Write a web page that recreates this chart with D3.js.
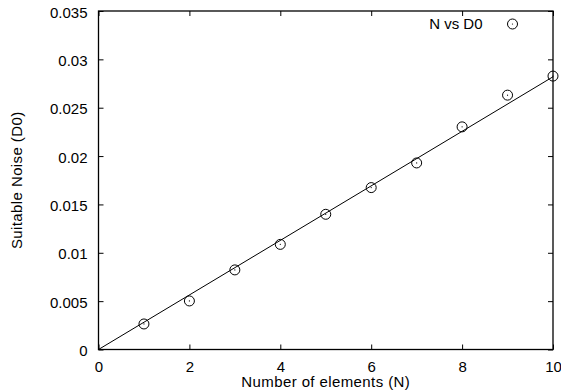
<!DOCTYPE html>
<html>
<head>
<meta charset="utf-8">
<script src="https://cdn.jsdelivr.net/npm/d3@7"></script>
<style>
  body { margin: 0; background: #fff; }
  text { font-family: "Liberation Sans", Arial, sans-serif; font-size: 15px; fill: #000; }
</style>
</head>
<body>
<div id="chart"></div>
<script>
// measured points
var nValues = [1, 2, 3, 4, 5, 6, 7, 8, 9, 10];
var d0Values = [0.00264, 0.00502, 0.00823, 0.01087, 0.01398, 0.01674, 0.01929, 0.02302, 0.0263, 0.02827];
// fitted line through origin
var fitSlope = 0.00282;
var xTicks = [0, 2, 4, 6, 8, 10];
var yTicks = [0, 0.005, 0.01, 0.015, 0.02, 0.025, 0.03, 0.035];
var legendLabel = "N vs D0";

var margin = { top: 11, right: 8, bottom: 42.5, left: 98.5 },
    width = 561 - margin.left - margin.right,
    height = 392 - margin.top - margin.bottom;

var x = d3.scaleLinear().domain([0, 10]).range([0, width]);
var y = d3.scaleLinear().domain([0, 0.035]).range([height, 0]);

var svg = d3.select("#chart").append("svg")
    .attr("width", 561)
    .attr("height", 392)
    .append("g")
    .attr("transform", "translate(" + margin.left + "," + margin.top + ")");

var tickLen = 5;

// axes with inward ticks, mirrored on top and right
svg.append("g")
    .attr("transform", "translate(0," + height + ")")
    .call(d3.axisBottom(x).tickValues(xTicks).tickSizeInner(-tickLen).tickSizeOuter(0).tickPadding(12))
    .call(function(g) { g.select(".domain").remove(); });
svg.append("g")
    .call(d3.axisTop(x).tickValues(xTicks).tickSizeInner(-tickLen).tickSizeOuter(0).tickFormat(""))
    .call(function(g) { g.select(".domain").remove(); });
svg.append("g")
    .call(d3.axisLeft(y).tickValues(yTicks).tickSizeInner(-tickLen).tickSizeOuter(0).tickPadding(11)
        .tickFormat(function(d) { return d === 0 ? "0" : String(+d.toFixed(3)); }))
    .call(function(g) { g.select(".domain").remove(); })
    .call(function(g) { g.selectAll(".tick text").attr("dy", "0.4em"); });
svg.append("g")
    .attr("transform", "translate(" + width + ",0)")
    .call(d3.axisRight(y).tickValues(yTicks).tickSizeInner(-tickLen).tickSizeOuter(0).tickFormat(""))
    .call(function(g) { g.select(".domain").remove(); });

svg.selectAll(".tick text").style("font-family", "'Liberation Sans', Arial, sans-serif").style("font-size", "15px");
svg.selectAll(".tick line").attr("stroke", "#000");

// frame
svg.append("rect")
    .attr("width", width)
    .attr("height", height)
    .attr("fill", "none")
    .attr("stroke", "#000")
    .attr("stroke-width", 1.3);

// fit line
svg.append("line")
    .attr("x1", x(0)).attr("y1", y(0))
    .attr("x2", x(10)).attr("y2", y(fitSlope * 10))
    .attr("stroke", "#000")
    .attr("stroke-width", 1);

// points
var data = nValues.map(function(n, i) { return { n: n, d: d0Values[i] }; });
var pts = svg.selectAll(".pt")
    .data(data)
    .enter().append("g")
    .attr("class", "pt")
    .attr("transform", function(d) { return "translate(" + x(d.n) + "," + y(d.d) + ")"; });
pts.append("circle").attr("r", 5).attr("fill", "none").attr("stroke", "#000").attr("stroke-width", 1);
pts.append("circle").attr("r", 0.6).attr("fill", "#000");

// legend
svg.append("text")
    .attr("x", 384)
    .attr("y", 18)
    .attr("text-anchor", "end")
    .text(legendLabel);
var lg = svg.append("g").attr("transform", "translate(414,13)");
lg.append("circle").attr("r", 5).attr("fill", "none").attr("stroke", "#000").attr("stroke-width", 1);
lg.append("circle").attr("r", 0.6).attr("fill", "#000");

// axis labels
svg.append("text")
    .attr("x", width / 2)
    .attr("y", height + 37.5)
    .attr("text-anchor", "middle")
    .style("letter-spacing", "0.4px")
    .text("Number of elements (N)");
svg.append("text")
    .attr("transform", "translate(" + (22 - margin.left) + "," + (height / 2) + ") rotate(-90)")
    .attr("text-anchor", "middle")
    .style("letter-spacing", "0.4px")
    .text("Suitable Noise (D0)");
</script>
</body>
</html>
